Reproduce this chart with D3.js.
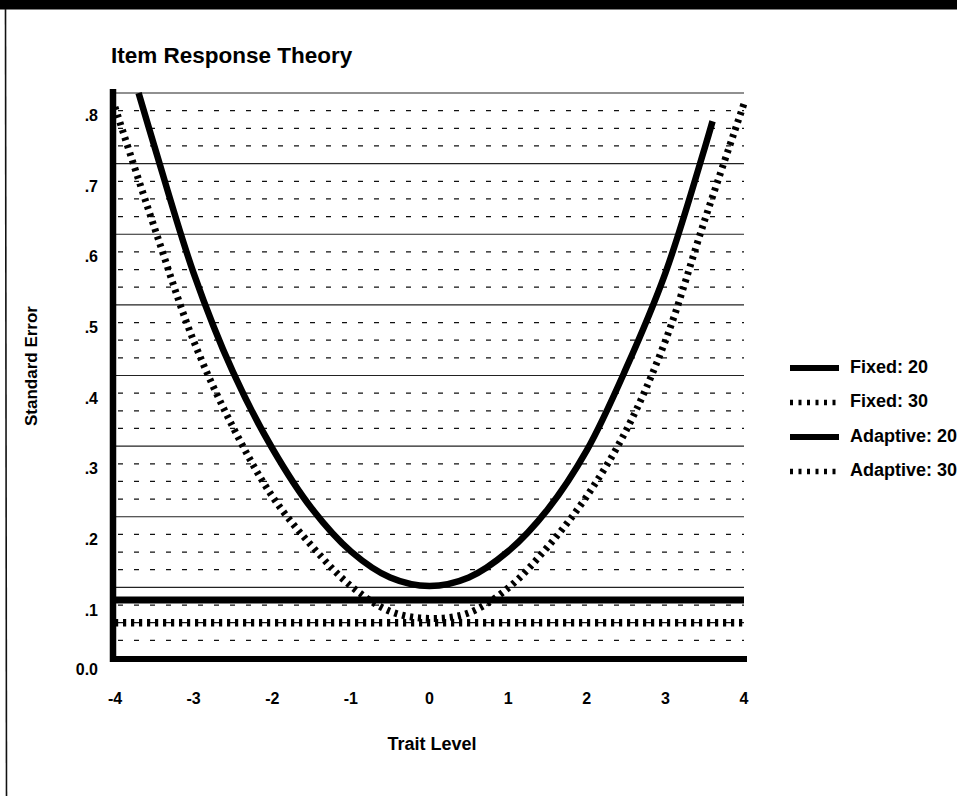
<!DOCTYPE html>
<html>
<head>
<meta charset="utf-8">
<script src="https://cdn.jsdelivr.net/npm/d3@7"></script>
<style>
  body { margin: 0; background: #fff; }
  text { font-family: "Liberation Sans", Arial, Helvetica, sans-serif; font-weight: bold; fill: #000; }
</style>
</head>
<body>
<div id="chart"></div>
<script>
var width = 957, height = 796;

// data
var xTicks = [-4, -3, -2, -1, 0, 1, 2, 3, 4];
var yTicks = [0, 0.1, 0.2, 0.3, 0.4, 0.5, 0.6, 0.7, 0.8];
var yTickLabels = ["0.0", ".1", ".2", ".3", ".4", ".5", ".6", ".7", ".8"];

var fixed20Theta = [-3.7, -3.5, -3, -2.5, -2, -1.5, -1, -0.5, 0, 0.5, 1, 1.5, 2, 2.5, 3, 3.5, 3.6];
var fixed20SE    = [0.80, 0.725, 0.545, 0.405, 0.297, 0.212, 0.151, 0.114, 0.102, 0.114, 0.151, 0.21, 0.294, 0.41, 0.545, 0.722, 0.76];

var fixed30Theta = [-4, -3.5, -3, -2.5, -2, -1.5, -1, -0.5, 0, 0.5, 1, 1.5, 2, 2.5, 3, 3.5, 4];
var fixed30SE    = [0.78, 0.61, 0.449, 0.327, 0.229, 0.159, 0.102, 0.066, 0.056, 0.064, 0.099, 0.157, 0.229, 0.322, 0.449, 0.62, 0.785];

var adaptive20Theta = [-4, 4];
var adaptive20SE    = [0.082, 0.082];
var adaptive30Theta = [-4, 4];
var adaptive30SE    = [0.050, 0.050];

var legendLabels = ["Fixed: 20", "Fixed: 30", "Adaptive: 20", "Adaptive: 30"];

var svg = d3.select("#chart")
  .append("svg")
  .attr("width", width)
  .attr("height", height);

var x = d3.scaleLinear().domain([-4, 4]).range([115, 744]);
var y = d3.scaleLinear().domain([0, 0.8]).range([658, 93]);

// page frame
svg.append("rect").attr("x", 0).attr("y", 0).attr("width", width).attr("height", 9.5).attr("fill", "#000");
svg.append("line").attr("x1", 5.5).attr("x2", 6.5).attr("y1", 9).attr("y2", height)
  .attr("stroke", "#111").attr("stroke-width", 1.6);

svg.append("text")
  .attr("x", 111).attr("y", 63)
  .style("font-size", "22.5px")
  .text("Item Response Theory");

// grid
var minor = d3.range(1, 33).map(d => d * 0.025).filter((d, i) => (i + 1) % 4 !== 0);
var major = d3.range(1, 9).map(d => d * 0.1);

svg.append("g").selectAll("line")
  .data(minor)
  .enter()
  .append("line")
  .attr("x1", x(-4) + 3).attr("x2", x(4))
  .attr("y1", d => y(d)).attr("y2", d => y(d))
  .attr("stroke", "#111")
  .attr("stroke-width", 1.2)
  .attr("stroke-dasharray", "5,11");

svg.append("g").selectAll("line")
  .data(major)
  .enter()
  .append("line")
  .attr("x1", x(-4)).attr("x2", x(4))
  .attr("y1", d => y(d)).attr("y2", d => y(d))
  .attr("stroke", "#222")
  .attr("stroke-width", 1.2);

// series
var line = d3.line()
  .x(d => x(d[0]))
  .y(d => y(d[1]))
  .curve(d3.curveCatmullRom);

var series = [
  { th: adaptive20Theta, se: adaptive20SE, w: 7, dash: null },
  { th: adaptive30Theta, se: adaptive30SE, w: 7.5, dash: "3.2,4.8" },
  { th: fixed30Theta, se: fixed30SE, w: 7, dash: "3.2,4.8" },
  { th: fixed20Theta, se: fixed20SE, w: 6.5, dash: null }
];

svg.append("g").selectAll("path")
  .data(series)
  .enter()
  .append("path")
  .attr("d", s => line(d3.zip(s.th, s.se)))
  .attr("fill", "none")
  .attr("stroke", "#000")
  .attr("stroke-width", s => s.w)
  .attr("stroke-dasharray", s => s.dash);

// axes
svg.append("line")
  .attr("x1", x(-4) - 2).attr("x2", x(-4) - 2)
  .attr("y1", 89).attr("y2", y(0) + 4)
  .attr("stroke", "#000").attr("stroke-width", 6.5);
svg.append("line")
  .attr("x1", x(-4) - 5).attr("x2", x(4) + 3)
  .attr("y1", y(0) + 1).attr("y2", y(0) + 1)
  .attr("stroke", "#000").attr("stroke-width", 6);

svg.append("g").selectAll("text")
  .data(yTicks)
  .enter()
  .append("text")
  .attr("x", 98)
  .attr("y", d => y(d) + (d === 0 ? 13 : 24))
  .attr("text-anchor", "end")
  .attr("dominant-baseline", "middle")
  .style("font-size", "16px")
  .text((d, i) => yTickLabels[i]);

svg.append("g").selectAll("text")
  .data(xTicks)
  .enter()
  .append("text")
  .attr("x", d => x(d))
  .attr("y", 700)
  .attr("text-anchor", "middle")
  .attr("dominant-baseline", "middle")
  .style("font-size", "16px")
  .text(d => d);

svg.append("text")
  .attr("x", 432).attr("y", 745)
  .attr("text-anchor", "middle")
  .attr("dominant-baseline", "middle")
  .style("font-size", "18px")
  .text("Trait Level");

svg.append("text")
  .attr("transform", "translate(33,366) rotate(-90)")
  .attr("text-anchor", "middle")
  .attr("dominant-baseline", "middle")
  .style("font-size", "17px")
  .text("Standard Error");

// legend
var legend = svg.append("g").selectAll("g")
  .data(legendLabels)
  .enter()
  .append("g")
  .attr("transform", (d, i) => "translate(790," + (368 + i * 34.5) + ")");

legend.append("line")
  .attr("x1", 0).attr("x2", 49)
  .attr("stroke", "#000")
  .attr("stroke-width", (d, i) => i % 2 ? 5.5 : 6)
  .attr("stroke-dasharray", (d, i) => i % 2 ? "3,5.5" : null);

legend.append("text")
  .attr("x", 60)
  .attr("dominant-baseline", "middle")
  .style("font-size", "18px")
  .text(d => d);
</script>
</body>
</html>
